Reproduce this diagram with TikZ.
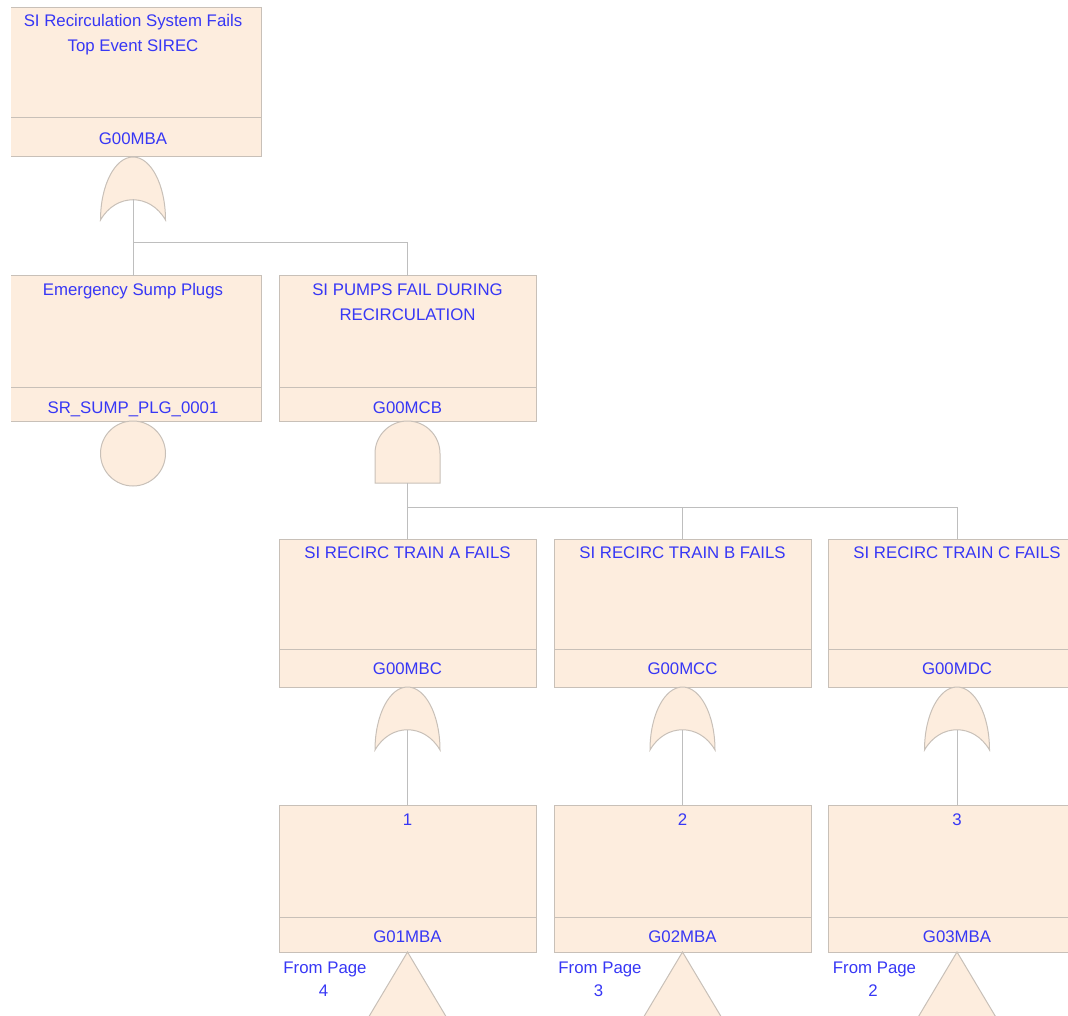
\documentclass[tikz,border=0pt]{standalone}
\usepackage{fontspec}
\setmainfont{Liberation Sans}
\definecolor{ftfill}{RGB}{253,237,222}
\definecolor{ftline}{RGB}{200,192,184}
\definecolor{ftconn}{RGB}{190,190,190}
\definecolor{fttext}{RGB}{55,55,245}
\tikzset{
  ftbox/.style={draw=ftline, fill=ftfill, line width=1pt, rectangle, inner sep=0pt, outer sep=0pt, anchor=north},
  fttxt/.style={text=fttext, font=\fontsize{16.8}{20}\selectfont, inner sep=0pt, anchor=base},
  ftgate/.style={draw=ftline, fill=ftfill, line width=1pt},
  conn/.style={draw=ftconn, line width=1pt},
  sepline/.style={draw=ftline, line width=1pt},
}
% OR gate: #1 = centre x, #2 = top y
\newcommand\ftorgate[2]{%
  \draw[ftgate] (#1-32.5,#2+63) .. controls (#1-32.5,#2+28) and (#1-18,#2) .. (#1,#2)
    .. controls (#1+18,#2) and (#1+32.5,#2+28) .. (#1+32.5,#2+63)
    .. controls (#1+17,#2+36) and (#1-17,#2+36) .. cycle;}
% transfer-in triangle: #1 = apex x, #2 = apex y
\newcommand\fttransfer[2]{%
  \draw[ftgate] (#1,#2) -- (#1+40,#2+67) -- (#1-40,#2+67) -- cycle;}
\begin{document}
\begin{tikzpicture}[x=1pt,y=-1pt]
\useasboundingbox (0,0) rectangle (1068,1016);
\clip (11,0) rectangle (1068,1016);

% ---------- row 1 ----------
\node[ftbox, minimum width=257pt, minimum height=149pt] (top) at (133,8) {};
\draw[sepline] ([yshift=39pt]top.south west) -- ([yshift=39pt]top.south east);
\node[fttxt] (topT1) at (133,27) {SI Recirculation System Fails};
\node[fttxt] (topT2) at (133,52) {Top Event SIREC};
\node[fttxt] (topID) at (133,145) {G00MBA};
\ftorgate{133}{157}
\coordinate (g0) at (133,199.5);
\coordinate (j0) at (133,243);

% ---------- row 2 ----------
\node[ftbox, minimum width=257pt, minimum height=145pt] (sump) at (133,276) {};
\draw[sepline] ([yshift=34pt]sump.south west) -- ([yshift=34pt]sump.south east);
\node[fttxt] (sumpT) at (133,296) {Emergency Sump Plugs};
\node[fttxt] (sumpID) at (133,413) {SR\_SUMP\_PLG\_0001};
\node[draw=ftline, fill=ftfill, line width=1pt, circle, minimum size=65pt, inner sep=0pt, outer sep=0pt] (sumpev) at (133,453.5) {};

\node[ftbox, minimum width=257pt, minimum height=145pt] (pumps) at (407.5,276) {};
\draw[sepline] ([yshift=34pt]pumps.south west) -- ([yshift=34pt]pumps.south east);
\node[fttxt] (pumpsT1) at (407.5,296) {SI PUMPS FAIL DURING};
\node[fttxt] (pumpsT2) at (407.5,320) {RECIRCULATION};
\node[fttxt] (pumpsID) at (407.5,413) {G00MCB};
\draw[ftgate] (375,483) -- (375,453.5) arc[start angle=180, end angle=0, radius=32.5pt] -- (440,483) -- cycle;
\coordinate (g1) at (407.5,483);
\coordinate (j1) at (407.5,507);

\draw[conn] (g0) -- (sump.north);
\draw[conn] (j0) -| (pumps.north);

% ---------- row 3 ----------
\foreach \nm/\xc/\lt/\gid in {ta/407.5/A/G00MBC, tb/682.5/B/G00MCC, tc/957/C/G00MDC}{
  \node[ftbox, minimum width=257pt, minimum height=148pt] (\nm) at (\xc,539) {};
  \draw[sepline] ([yshift=38pt]\nm.south west) -- ([yshift=38pt]\nm.south east);
  \node[fttxt] (\nm T) at (\xc,558) {SI RECIRC TRAIN \lt\ FAILS};
  \node[fttxt] (\nm ID) at (\xc,674) {\gid};
  \ftorgate{\xc}{687}
  \coordinate (\nm g) at (\xc,730);
}
\draw[conn] (g1) -- (ta.north);
\draw[conn] (j1) -| (tb.north);
\draw[conn] (j1) -| (tc.north);

% ---------- row 4 ----------
\foreach \nm/\up/\xc/\num/\gid/\pg in {pa/ta/407.5/1/G01MBA/4, pb/tb/682.5/2/G02MBA/3, pc/tc/957/3/G03MBA/2}{
  \node[ftbox, minimum width=257pt, minimum height=147pt] (\nm) at (\xc,805) {};
  \draw[sepline] ([yshift=35pt]\nm.south west) -- ([yshift=35pt]\nm.south east);
  \node[fttxt] (\nm T) at (\xc,825) {\num};
  \node[fttxt] (\nm ID) at (\xc,942) {\gid};
  \fttransfer{\xc}{952}
  \node[fttxt] (\nm F1) at (\xc-82.5,973) {From Page};
  \node[fttxt] (\nm F2) at (\xc-84,996) {\pg};
  \draw[conn] (\up g) -- (\nm.north);
}
\end{tikzpicture}
\end{document}
